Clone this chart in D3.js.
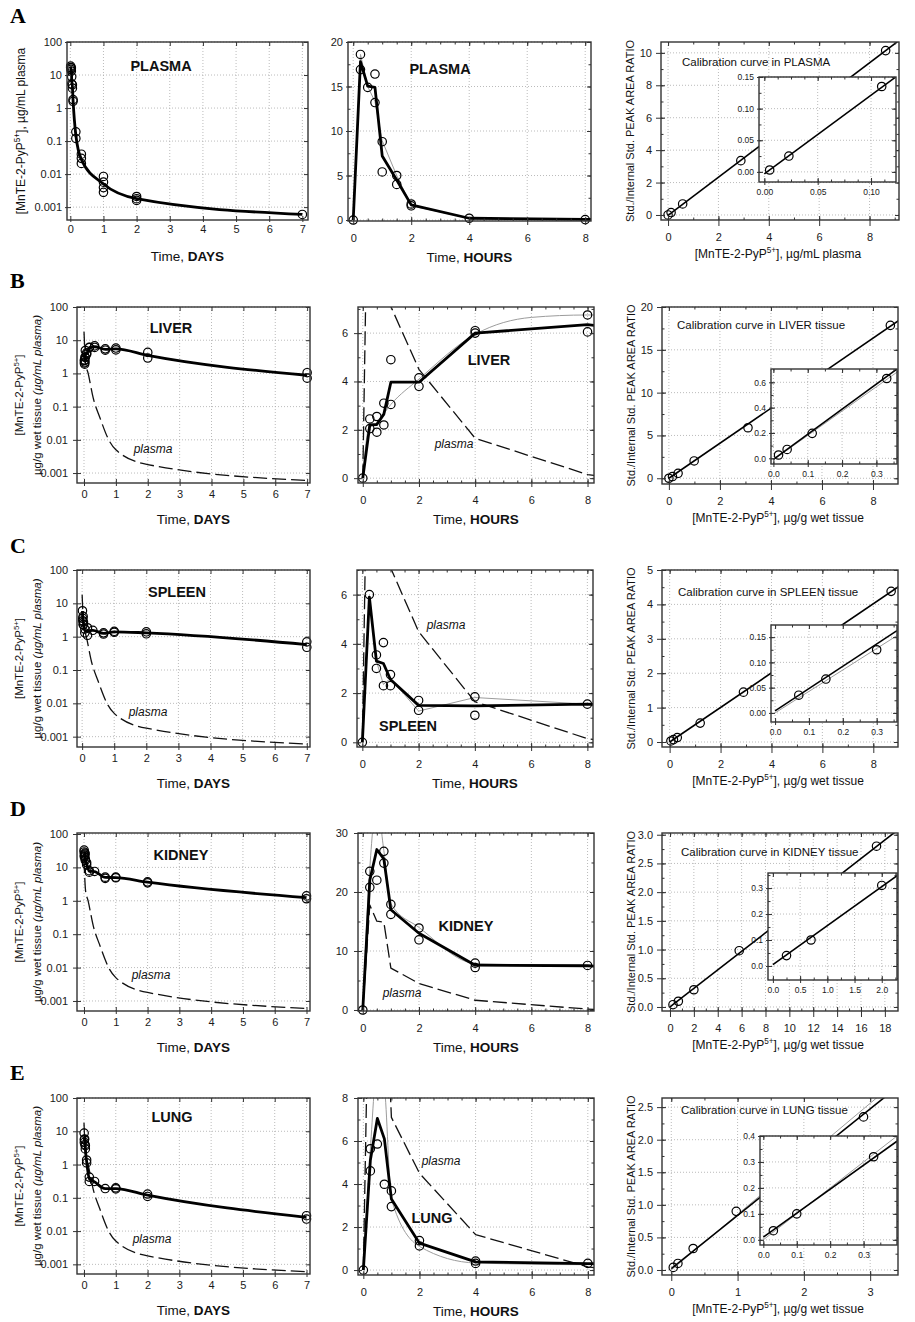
<!DOCTYPE html>
<html>
<head>
<meta charset="utf-8">
<script src="https://cdn.jsdelivr.net/npm/d3@7/dist/d3.min.js"></script>
<style>
  body { margin: 0; background: #fff; }
</style>
</head>
<body>
<svg id="fig" width="915" height="1322"></svg>
<script>
// ---- tick labels ----
var dayTicks = [0, 1, 2, 3, 4, 5, 6, 7];
var logTicks = [0.001, 0.01, 0.1, 1, 10, 100];
var hourTicks = [0, 2, 4, 6, 8];
var plasmaHrTicks = [0, 5, 10, 15, 20];
var liverHrTicks = [0, 2, 4, 6];
var spleenHrTicks = [0, 2, 4, 6];
var kidneyHrTicks = [0, 10, 20, 30];
var lungHrTicks = [0, 2, 4, 6, 8];

var plasmaCalX = [0, 2, 4, 6, 8], plasmaCalY = [0, 2, 4, 6, 8, 10];
var liverCalX = [0, 2, 4, 6, 8], liverCalY = [0, 5, 10, 15, 20];
var spleenCalX = [0, 2, 4, 6, 8], spleenCalY = [0, 1, 2, 3, 4, 5];
var kidneyCalX = [0, 2, 4, 6, 8, 10, 12, 14, 16, 18], kidneyCalY = [0, 0.5, 1, 1.5, 2, 2.5, 3];
var lungCalX = [0, 1, 2, 3], lungCalY = [0, 0.5, 1, 1.5, 2, 2.5];
var plasmaInX = [0, 0.05, 0.1], plasmaInY = [0, 0.05, 0.1, 0.15];
var liverInX = [0, 0.1, 0.2, 0.3], liverInY = [0, 0.2, 0.4, 0.6];
var spleenInX = [0, 0.1, 0.2, 0.3], spleenInY = [0, 0.05, 0.1, 0.15];
var kidneyInX = [0, 0.5, 1, 1.5, 2], kidneyInY = [0, 0.1, 0.2, 0.3];
var lungInX = [0, 0.1, 0.2, 0.3], lungInY = [0, 0.1, 0.2, 0.3, 0.4];

// ---- plasma reference (dashed) ----
var plasmaRefDay = [[0,18],[0.05,2],[0.13,1],[0.29,0.18],[0.5,0.046],[0.8,0.009],[1,0.005],[2,0.0018],[7,0.0006]];
var plasmaRefHr = [[0,0],[0.25,17.8],[0.5,15.05],[0.75,14.9],[1,7.1],[2,4.5],[4,1.65],[8,0.15],[8.3,0.1]];

// ---- PLASMA ----
var plasmaDayPts = [[0.0104,18.6],[0.0104,16.9],[0.0208,14.9],[0.0313,16.4],[0.0313,13.2],[0.0417,8.8],[0.0417,5.4],[0.0625,5.0],[0.0625,4.0],[0.0833,1.8],[0.0833,1.6],[0.167,0.19],[0.167,0.12],[0.333,0.04],[0.333,0.03],[0.333,0.021],[1,0.0085],[1,0.0057],[1,0.0039],[1,0.0028],[2,0.0021],[2,0.0018],[2,0.0016],[7,0.0006]];
var plasmaDayMean = [[0.0104,17.8],[0.0208,15.05],[0.0313,14.9],[0.0417,7.2],[0.0625,4.5],[0.0833,1.7],[0.167,0.15],[0.333,0.028],[1,0.005],[2,0.0018],[7,0.0006]];
var plasmaHrPts = [[0,0],[0.25,18.6],[0.25,16.9],[0.5,14.9],[0.75,16.4],[0.75,13.2],[1,8.8],[1,5.4],[1.5,5.0],[1.5,4.0],[2,1.8],[2,1.6],[4,0.2],[8,0.05]];
var plasmaHrMean = [[0,0],[0.25,17.8],[0.5,15.05],[0.75,14.9],[1,7.2],[1.5,4.5],[2,1.7],[4,0.2],[8,0.07],[24,0.005]];
var plasmaHrFit = [[0,0],[0.25,18.6],[0.5,15],[0.75,13.3],[1,8.9],[1.5,5],[2,1.6],[4,0.2],[8,0.05]];
var plasmaCalPts = [[0,0],[0.12,0.15],[0.58,0.68],[2.89,3.35],[8.64,10.14]];
var plasmaCalLine = [[0,-0.02],[9.1,10.68]];
var plasmaInPts = [[0.005,0.003],[0.023,0.025],[0.11,0.135]];
var plasmaInLine = [[0,-0.003],[0.124,0.151]];

// ---- LIVER ----
var liverDayPts = [[0.0104,2.45],[0.0104,2.05],[0.0208,2.55],[0.0208,1.9],[0.0313,3.1],[0.0313,2.2],[0.0417,4.9],[0.0417,3.05],[0.0833,4.15],[0.0833,3.8],[0.167,6.1],[0.167,6.0],[0.333,6.75],[0.333,6.05],[0.667,5.5],[0.667,5.0],[1,5.8],[1,5.1],[2,4.3],[2,2.9],[7,1.05],[7,0.72]];
var liverDayMean = [[0.0104,2.2],[0.0208,2.22],[0.0313,2.65],[0.0417,3.97],[0.0833,3.97],[0.167,6.0],[0.333,6.35],[0.667,5.3],[1,5.5],[2,3.5],[7,0.88]];
var liverHrPts = [[0,0],[0.25,2.45],[0.25,2.05],[0.5,2.55],[0.5,1.9],[0.75,3.1],[0.75,2.2],[1,4.9],[1,3.05],[2,4.15],[2,3.8],[4,6.1],[4,6.0],[8,6.75],[8,6.05]];
var liverHrMean = [[0,0],[0.25,2.2],[0.5,2.22],[0.75,2.65],[1,3.97],[2,3.97],[4,6.0],[8,6.35],[16,5.3]];
var liverHrFit = [[0,0],[0.2,2.0],[0.5,2.3],[1,3.05],[2,4.1],[4,5.95],[6,6.65],[8,6.75],[8.3,6.75]];
var liverCalPts = [[0,0],[0.14,0.2],[0.36,0.58],[0.99,2.02],[3.1,5.9],[8.68,17.85]];
var liverCalLine = [[0,0],[9.0,18.4]];
var liverInPts = [[0.015,0.026],[0.04,0.07],[0.113,0.197],[0.33,0.63]];
var liverInLine = [[0,-0.008],[0.36,0.705]];
var liverInFit = [[0,-0.012],[0.36,0.68]];

// ---- SPLEEN ----
var spleenDayPts = [[0.0104,6.0],[0.0208,3.55],[0.0208,3.0],[0.0313,4.05],[0.0313,2.3],[0.0417,2.75],[0.0417,2.3],[0.0833,1.7],[0.0833,1.3],[0.167,1.85],[0.167,1.1],[0.333,1.55],[0.667,1.3],[0.667,1.2],[1,1.45],[1,1.35],[2,1.4],[2,1.22],[7,0.7],[7,0.48]];
var spleenDayMean = [[0.0104,5.9],[0.0208,3.3],[0.0313,3.2],[0.0417,2.55],[0.0833,1.5],[0.167,1.48],[0.333,1.55],[0.667,1.25],[1,1.4],[2,1.3],[7,0.58]];
var spleenHrPts = [[0,0],[0.25,6.0],[0.5,3.55],[0.5,3.0],[0.75,4.05],[0.75,2.3],[1,2.75],[1,2.3],[2,1.7],[2,1.3],[4,1.85],[4,1.1],[8,1.55]];
var spleenHrMean = [[0,0],[0.25,5.9],[0.5,3.3],[0.75,3.2],[1,2.55],[2,1.5],[4,1.48],[8,1.55],[16,1.25]];
var spleenHrFit = [[0,0],[0.25,5.95],[0.5,3.3],[0.75,2.35],[1,2.6],[2,1.27],[4,1.82],[8,1.55],[8.3,1.55]];
var spleenCalPts = [[0.05,0.03],[0.15,0.07],[0.3,0.13],[1.2,0.55],[2.9,1.45],[8.7,4.38]];
var spleenCalLine = [[0,0],[9,4.52]];
var spleenInPts = [[0.07,0.035],[0.15,0.067],[0.3,0.125]];
var spleenInLine = [[0,0.004],[0.36,0.163]];
var spleenInFit = [[0,0],[0.36,0.153]];

// ---- KIDNEY ----
var kidneyDayPts = [[0.004,33],[0.004,29],[0.0104,23.5],[0.0104,20.8],[0.0208,22],[0.0313,26.9],[0.0313,24.9],[0.0417,17.9],[0.0417,16.2],[0.0833,13.9],[0.0833,11.9],[0.167,7.95],[0.167,7.2],[0.333,7.55],[0.667,5.1],[0.667,4.7],[1,5.1],[1,4.9],[2,3.7],[2,3.45],[7,1.4],[7,1.15]];
var kidneyDayMean = [[0.0104,22],[0.0208,27.2],[0.0313,25.6],[0.0417,17],[0.0833,13],[0.167,7.6],[0.333,7.5],[0.667,5.0],[1,4.95],[2,3.6],[7,1.25]];
var kidneyHrPts = [[0,0],[0.25,23.5],[0.25,20.8],[0.5,22],[0.75,26.9],[0.75,24.9],[1,17.9],[1,16.2],[2,13.9],[2,11.9],[4,7.95],[4,7.2],[8,7.55]];
var kidneyHrMean = [[0,0],[0.25,22],[0.5,27.2],[0.75,25.6],[1,17],[2,13],[4,7.6],[8,7.5],[16,5.0]];
var kidneyHrFit = [[0,0],[0.25,24],[0.5,35],[0.75,27],[1,18],[2,14],[4,7.9],[8,7.55],[8.3,7.55]];
var kidneyCalPts = [[0.25,0.04],[0.7,0.1],[2,0.3],[5.8,0.98],[17.3,2.8]];
var kidneyCalLine = [[0,0],[19,3.07]];
var kidneyInPts = [[0.25,0.04],[0.7,0.1],[2,0.31]];
var kidneyInLine = [[0,0.005],[2.3,0.35]];

// ---- LUNG ----
var lungDayPts = [[0.004,8.8],[0.0104,5.64],[0.0104,4.61],[0.0208,5.86],[0.0313,3.99],[0.0417,3.68],[0.0417,2.95],[0.0833,1.37],[0.0833,1.12],[0.167,0.42],[0.167,0.31],[0.333,0.31],[0.667,0.19],[1,0.2],[1,0.185],[2,0.13],[2,0.11],[7,0.029],[7,0.023]];
var lungDayMean = [[0.0104,5.1],[0.0208,7.05],[0.0313,6.1],[0.0417,3.3],[0.0833,1.25],[0.167,0.38],[0.333,0.3],[0.667,0.19],[1,0.19],[2,0.12],[7,0.026]];
var lungHrPts = [[0,0],[0.25,5.64],[0.25,4.61],[0.5,5.86],[0.75,3.99],[1,3.68],[1,2.95],[2,1.37],[2,1.12],[4,0.42],[4,0.31],[8,0.31]];
var lungHrMean = [[0,0],[0.25,5.1],[0.5,7.05],[0.75,6.1],[1,3.3],[2,1.25],[4,0.38],[8,0.3],[16,0.19]];
var lungHrFit = [[0,0],[0.25,5.6],[0.5,9.5],[0.75,8.5],[1,3.3],[2,1.1],[4,0.33],[8,0.25],[8.3,0.25]];
var lungCalPts = [[0.03,0.04],[0.1,0.1],[0.33,0.33],[0.98,0.9],[2.9,2.35]];
var lungCalLine = [[0,0.02],[3.4,2.8]];
var lungCalFit = [[0,0],[3.4,2.9]];
var lungInPts = [[0.03,0.035],[0.1,0.1],[0.33,0.32]];
var lungInLine = [[0,0.01],[0.4,0.38]];
var lungInFit = [[0,0],[0.4,0.4]];

var FONT = "'Liberation Sans', Arial, Helvetica, sans-serif";
var svg = d3.select("#fig");
var defs = svg.append("defs");
var clipN = 0;

function makePanel(box, xDom, yDom, log) {
  var x = d3.scaleLinear().domain(xDom).range([box[0], box[1]]);
  var y = (log ? d3.scaleLog() : d3.scaleLinear()).domain(yDom).range([box[3], box[2]]);
  var id = "clip" + (clipN++);
  defs.append("clipPath").attr("id", id).append("rect")
    .attr("x", box[0]).attr("y", box[2])
    .attr("width", box[1] - box[0]).attr("height", box[3] - box[2]);
  return {x: x, y: y, box: box, g: svg.append("g"), clip: "url(#" + id + ")"};
}

function drawGrid(p, xt, yt) {
  var b = p.box;
  p.g.append("g").selectAll("line").data(xt).join("line")
    .attr("x1", function (d) { return p.x(d); }).attr("x2", function (d) { return p.x(d); })
    .attr("y1", b[2]).attr("y2", b[3])
    .attr("stroke", "#aaa").attr("stroke-width", 0.8).attr("stroke-dasharray", "1,2");
  p.g.append("g").selectAll("line").data(yt).join("line")
    .attr("y1", function (d) { return p.y(d); }).attr("y2", function (d) { return p.y(d); })
    .attr("x1", b[0]).attr("x2", b[1])
    .attr("stroke", "#aaa").attr("stroke-width", 0.8).attr("stroke-dasharray", "1,2");
}

function drawAxes(p, o) {
  var b = p.box, g = p.g, fs = o.fs || 11;
  var style = function (sel) {
    sel.select(".domain").remove();
    sel.attr("font-family", FONT).attr("font-size", fs);
    sel.selectAll(".tick line").attr("stroke", "#333").attr("stroke-width", 1);
    sel.selectAll(".tick text").attr("fill", "#1a1a1a");
  };
  var at = function (sel, v) { return g.append("g").attr("transform", v); };
  if (o.xm) {
    at(g, "translate(0," + b[3] + ")").call(d3.axisBottom(p.x).tickValues(o.xm).tickSize(-2.5).tickFormat("")).call(style);
    at(g, "translate(0," + b[2] + ")").call(d3.axisTop(p.x).tickValues(o.xm).tickSize(-2.5).tickFormat("")).call(style);
  }
  if (o.ym) {
    at(g, "translate(" + b[0] + ",0)").call(d3.axisLeft(p.y).tickValues(o.ym).tickSize(-2.5).tickFormat("")).call(style);
    at(g, "translate(" + b[1] + ",0)").call(d3.axisRight(p.y).tickValues(o.ym).tickSize(-2.5).tickFormat("")).call(style);
  }
  // inward major ticks on all four sides
  at(g, "translate(0," + b[3] + ")").call(d3.axisBottom(p.x).tickValues(o.xt).tickSize(-4).tickFormat("")).call(style);
  at(g, "translate(0," + b[2] + ")").call(d3.axisTop(p.x).tickValues(o.xt).tickSize(-4).tickFormat("")).call(style);
  at(g, "translate(" + b[0] + ",0)").call(d3.axisLeft(p.y).tickValues(o.yt).tickSize(-4).tickFormat("")).call(style);
  at(g, "translate(" + b[1] + ",0)").call(d3.axisRight(p.y).tickValues(o.yt).tickSize(-4).tickFormat("")).call(style);
  // outward major ticks with labels
  at(g, "translate(0," + b[3] + ")").call(d3.axisBottom(p.x).tickValues(o.xt).tickSizeInner(o.xo).tickSizeOuter(0).tickPadding(o.xp).tickFormat(o.xf)).call(style);
  at(g, "translate(" + b[0] + ",0)").call(d3.axisLeft(p.y).tickValues(o.yt).tickSizeInner(o.yo).tickSizeOuter(0).tickPadding(o.yp).tickFormat(o.yf)).call(style);
  g.append("rect").attr("x", b[0]).attr("y", b[2]).attr("width", b[1] - b[0]).attr("height", b[3] - b[2])
    .attr("fill", "none").attr("stroke", "#333").attr("stroke-width", 1.4);
}

function addLine(p, data, stroke, width, dash, curve) {
  p.g.append("path").datum(data)
    .attr("clip-path", p.clip)
    .attr("fill", "none").attr("stroke", stroke).attr("stroke-width", width)
    .attr("stroke-dasharray", dash || null)
    .attr("stroke-linejoin", "round")
    .attr("d", d3.line()
      .x(function (d) { return p.x(d[0]); })
      .y(function (d) { return p.y(d[1]); })
      .curve(curve || d3.curveLinear));
}

function addDots(p, data) {
  p.g.append("g").selectAll("circle").data(data).join("circle")
    .attr("cx", function (d) { return p.x(d[0]); })
    .attr("cy", function (d) { return p.y(d[1]); })
    .attr("r", 4.2)
    .attr("fill", "none").attr("stroke", "#000").attr("stroke-width", 1.2);
}

// text made of parts: {t, b, i, sup}
function rich(x, y, parts, size, anchor, rotate) {
  var t = svg.append("text")
    .attr("font-family", FONT).attr("font-size", size).attr("fill", "#111")
    .attr("text-anchor", anchor || "start");
  if (rotate) t.attr("transform", "translate(" + x + "," + y + ") rotate(-90)");
  else t.attr("x", x).attr("y", y);
  var shift = 0;
  parts.forEach(function (pt) {
    var s = t.append("tspan").text(pt.t);
    if (pt.b) s.attr("font-weight", "bold");
    if (pt.i) s.attr("font-style", "italic");
    if (pt.sup) {
      s.attr("font-size", size * 0.68).attr("dy", -size * 0.38);
      shift = size * 0.38;
    } else if (shift) {
      s.attr("dy", shift);
      shift = 0;
    }
  });
  return t;
}

var fmtS = function (d) { return String(d); };
var fmt1 = d3.format(".1f"), fmt2 = d3.format(".2f"), fmt0 = d3.format("d");
var sup5 = function (after) { return [{t: "[MnTE-2-PyP"}, {t: "5+", sup: true}, {t: "]" + after}]; };

var rows = [
  {letter: "A", ly: 23, organ: "PLASMA",
   left: {box: [67, 308, 42, 220], x: [-0.1, 7.17], y: [Math.pow(10, -3.39), 100]},
   mid: {box: [348, 591, 42, 221], x: [-0.18, 8.2], y: [-0.11, 20], yt: plasmaHrTicks, ym: d3.range(0, 20.1, 2.5)},
   right: {box: [661, 899, 42, 220], x: [-0.28, 9.17], y: [-0.31, 10.67], xt: plasmaCalX, yt: plasmaCalY, xm: d3.range(0, 9.1, 1), ym: d3.range(0, 10.1, 1), xf: fmt0, yf: fmt0},
   inset: {box: [759, 896, 77, 182], x: [-0.005, 0.1234], y: [-0.016, 0.15], xt: plasmaInX, yt: plasmaInY, xm: d3.range(0, 0.121, 0.0125), ym: d3.range(0, 0.151, 0.025), xf: fmt2, yf: fmt2},
   dayPts: plasmaDayPts, dayMean: plasmaDayMean, hrPts: plasmaHrPts, hrMean: plasmaHrMean, hrFit: plasmaHrFit, fitCurve: d3.curveLinear,
   cal: plasmaCalPts, calLine: plasmaCalLine, inPts: plasmaInPts, inLine: plasmaInLine,
   leftLbl: [161, 71], midLbl: [440, 74], calText: [682, 66, "Calibration curve in PLASMA"], ref: false},
  {letter: "B", ly: 288, organ: "LIVER",
   left: {box: [77, 310, 307, 483], x: [-0.22, 7.09], y: [Math.pow(10, -3.3), 100]},
   mid: {box: [358, 594, 307, 483], x: [-0.17, 8.23], y: [-0.2, 7.08], yt: liverHrTicks, ym: d3.range(0, 7.1, 1)},
   right: {box: [662, 898, 307, 484], x: [-0.27, 8.98], y: [-0.67, 20], xt: liverCalX, yt: liverCalY, xm: d3.range(0, 8.1, 1), ym: d3.range(0, 20.1, 2.5), xf: fmt0, yf: fmt0},
   inset: {box: [771, 897, 369, 464], x: [-0.007, 0.36], y: [-0.045, 0.705], xt: liverInX, yt: liverInY, xm: d3.range(0, 0.36, 0.05), ym: d3.range(0, 0.7, 0.1), xf: fmt1, yf: fmt1},
   dayPts: liverDayPts, dayMean: liverDayMean, hrPts: liverHrPts, hrMean: liverHrMean, hrFit: liverHrFit, fitCurve: d3.curveMonotoneX,
   cal: liverCalPts, calLine: liverCalLine, inPts: liverInPts, inLine: liverInLine, inFit: liverInFit,
   leftLbl: [171, 333], midLbl: [489, 365], leftPl: [153, 453], midPl: [454, 448], calText: [677, 329, "Calibration curve in LIVER tissue"], ref: true},
  {letter: "C", ly: 553, organ: "SPLEEN",
   left: {box: [77, 310, 570, 747], x: [-0.16, 7.1], y: [Math.pow(10, -3.31), 100]},
   mid: {box: [357, 593, 570, 747], x: [-0.19, 8.2], y: [-0.19, 7.0], yt: spleenHrTicks, ym: d3.range(0, 7.1, 1)},
   right: {box: [662, 898, 570, 747], x: [-0.3, 8.97], y: [-0.145, 5.0], xt: spleenCalX, yt: spleenCalY, xm: d3.range(0, 8.1, 1), ym: d3.range(0, 5.1, 0.5), xf: fmt0, yf: fmt0},
   inset: {box: [771, 897, 625, 722], x: [-0.012, 0.36], y: [-0.018, 0.174], xt: spleenInX, yt: spleenInY, xm: d3.range(0, 0.36, 0.05), ym: d3.range(0, 0.17, 0.025), xf: fmt1, yf: fmt2},
   dayPts: spleenDayPts, dayMean: spleenDayMean, hrPts: spleenHrPts, hrMean: spleenHrMean, hrFit: spleenHrFit, fitCurve: d3.curveLinear,
   cal: spleenCalPts, calLine: spleenCalLine, inPts: spleenInPts, inLine: spleenInLine, inFit: spleenInFit,
   leftLbl: [177, 597], midLbl: [408, 731], leftPl: [148, 716], midPl: [446, 629], calText: [678, 596, "Calibration curve in SPLEEN tissue"], ref: true},
  {letter: "D", ly: 816, organ: "KIDNEY",
   left: {box: [77, 310, 833, 1011], x: [-0.22, 7.11], y: [Math.pow(10, -3.3), Math.pow(10, 2.03)]},
   mid: {box: [358, 594, 833, 1011], x: [-0.17, 8.23], y: [-0.17, 30], yt: kidneyHrTicks, ym: d3.range(0, 30.1, 5)},
   right: {box: [662, 898, 833, 1011], x: [-0.67, 19.1], y: [-0.07, 3.03], xt: kidneyCalX, yt: kidneyCalY, xm: d3.range(0, 19, 1), ym: d3.range(0, 3.01, 0.25), xf: fmt0, yf: fmt1},
   inset: {box: [768, 897, 873, 980], x: [-0.09, 2.28], y: [-0.054, 0.358], xt: kidneyInX, yt: kidneyInY, xm: d3.range(0, 2.26, 0.25), ym: d3.range(0, 0.351, 0.05), xf: fmt1, yf: fmt1},
   dayPts: kidneyDayPts, dayMean: kidneyDayMean, hrPts: kidneyHrPts, hrMean: kidneyHrMean, hrFit: kidneyHrFit, fitCurve: d3.curveMonotoneX,
   cal: kidneyCalPts, calLine: kidneyCalLine, inPts: kidneyInPts, inLine: kidneyInLine,
   leftLbl: [181, 860], midLbl: [466, 931], leftPl: [151, 979], midPl: [402, 997], calText: [681, 856, "Calibration curve in KIDNEY tissue"], ref: true},
  {letter: "E", ly: 1080, organ: "LUNG",
   left: {box: [77, 310, 1098, 1274], x: [-0.22, 7.11], y: [Math.pow(10, -3.29), 100]},
   mid: {box: [358, 594, 1098, 1275], x: [-0.19, 8.22], y: [-0.23, 8], yt: lungHrTicks, ym: d3.range(0, 8.1, 1)},
   right: {box: [662, 898, 1098, 1275], x: [-0.14, 3.42], y: [-0.077, 2.64], xt: lungCalX, yt: lungCalY, xm: d3.range(0, 3.41, 0.5), ym: d3.range(0, 2.61, 0.25), xf: fmt0, yf: fmt1},
   inset: {box: [760, 897, 1136, 1245], x: [-0.01, 0.4], y: [-0.02, 0.4], xt: lungInX, yt: lungInY, xm: d3.range(0, 0.4, 0.05), ym: d3.range(0, 0.41, 0.05), xf: fmt1, yf: fmt1},
   dayPts: lungDayPts, dayMean: lungDayMean, hrPts: lungHrPts, hrMean: lungHrMean, hrFit: lungHrFit, fitCurve: d3.curveMonotoneX,
   cal: lungCalPts, calLine: lungCalLine, calFit: lungCalFit, inPts: lungInPts, inLine: lungInLine, inFit: lungInFit,
   leftLbl: [172, 1122], midLbl: [432, 1223], leftPl: [152, 1243], midPl: [441, 1165], calText: [681, 1114, "Calibration curve in LUNG tissue"], ref: true}
];

rows.forEach(function (r, i) {
  var isA = i === 0;

  // panel letter
  svg.append("text").attr("x", 10).attr("y", r.ly)
    .attr("font-family", "'Liberation Serif', 'Times New Roman', serif")
    .attr("font-weight", "bold").attr("font-size", 22).text(r.letter);

  // ---- left: DAYS, log scale ----
  var L = r.left;
  var pl = makePanel(L.box, L.x, L.y, true);
  drawGrid(pl, dayTicks, logTicks);
  if (r.ref) addLine(pl, plasmaRefDay, "#111", 1.3, "14,5", d3.curveMonotoneX);
  addLine(pl, r.dayMean, "#000", 2.8, null, d3.curveMonotoneX);
  addDots(pl, r.dayPts);
  drawAxes(pl, {xt: dayTicks, yt: logTicks, xf: fmt0, yf: fmtS,
    xo: isA ? 2 : 3, xp: isA ? 3 : 4, yo: isA ? 2 : 4, yp: isA ? 3 : 5});
  var lc = (L.box[0] + L.box[1]) / 2, lm = (L.box[2] + L.box[3]) / 2;
  rich(lc, L.box[3] + 41, [{t: "Time, "}, {t: "DAYS", b: true}], 13.5, "middle");
  if (isA) {
    rich(25, lm, sup5(", µg/mL plasma"), 12, "middle", true);
  } else {
    rich(23, lm, sup5(""), 11.5, "middle", true);
    rich(41, lm, [{t: "µg/g wet tissue "}, {t: "(µg/mL plasma)", i: true}], 11.5, "middle", true);
    rich(r.leftPl[0], r.leftPl[1], [{t: "plasma", i: true}], 12, "middle");
  }
  rich(r.leftLbl[0], r.leftLbl[1], [{t: r.organ, b: true}], 14.5, "middle");

  // ---- middle: HOURS, linear ----
  var M = r.mid;
  var pm = makePanel(M.box, M.x, M.y, false);
  drawGrid(pm, hourTicks, M.yt);
  addLine(pm, r.hrFit, "#9c9c9c", 1, null, r.fitCurve);
  if (r.ref) addLine(pm, plasmaRefHr, "#111", 1.3, "14,5");
  addLine(pm, r.hrMean, "#000", 2.8);
  addDots(pm, r.hrPts);
  drawAxes(pm, {xt: hourTicks, yt: M.yt, xm: d3.range(0, 8.3, 0.5), ym: M.ym, xf: fmt0, yf: fmt0,
    xo: 4, xp: 9, yo: isA ? 2 : 4, yp: isA ? 3 : 6});
  rich((M.box[0] + M.box[1]) / 2, M.box[3] + 41, [{t: "Time, "}, {t: "HOURS", b: true}], 13.5, "middle");
  rich(r.midLbl[0], r.midLbl[1], [{t: r.organ, b: true}], 14.5, "middle");
  if (r.ref) rich(r.midPl[0], r.midPl[1], [{t: "plasma", i: true}], 12, "middle");

  // ---- right: calibration ----
  var R = r.right;
  var pr = makePanel(R.box, R.x, R.y, false);
  drawGrid(pr, R.xt, R.yt);
  if (r.calFit) addLine(pr, r.calFit, "#9c9c9c", 1);
  addLine(pr, r.calLine, "#000", 1.6);
  addDots(pr, r.cal);
  drawAxes(pr, {xt: R.xt, yt: R.yt, xm: R.xm, ym: R.ym, xf: R.xf, yf: R.yf, xo: 6, xp: 7, yo: 5, yp: 4});
  rich(R.box[0] - 27, (R.box[2] + R.box[3]) / 2, [{t: "Std./Internal Std. PEAK AREA RATIO"}], 11, "middle", true);
  rich((R.box[0] + R.box[1]) / 2 - 2, R.box[3] + 38,
    sup5(isA ? ", µg/mL plasma" : ", µg/g wet tissue"), 12, "middle");
  rich(r.calText[0], r.calText[1], [{t: r.calText[2]}], 11.5, "start");

  // inset
  var I = r.inset;
  svg.append("rect").attr("x", I.box[0]).attr("y", I.box[2])
    .attr("width", I.box[1] - I.box[0]).attr("height", I.box[3] - I.box[2]).attr("fill", "#fff");
  var pi = makePanel(I.box, I.x, I.y, false);
  drawGrid(pi, I.xt, I.yt);
  if (r.inFit) addLine(pi, r.inFit, "#9c9c9c", 1);
  addLine(pi, r.inLine, "#000", 1.6);
  addDots(pi, r.inPts);
  drawAxes(pi, {xt: I.xt, yt: I.yt, xm: I.xm, ym: I.ym, xf: I.xf, yf: I.yf, fs: 8.5, xo: 3, xp: 4, yo: 2, yp: 3});
});
</script>
</body>
</html>
